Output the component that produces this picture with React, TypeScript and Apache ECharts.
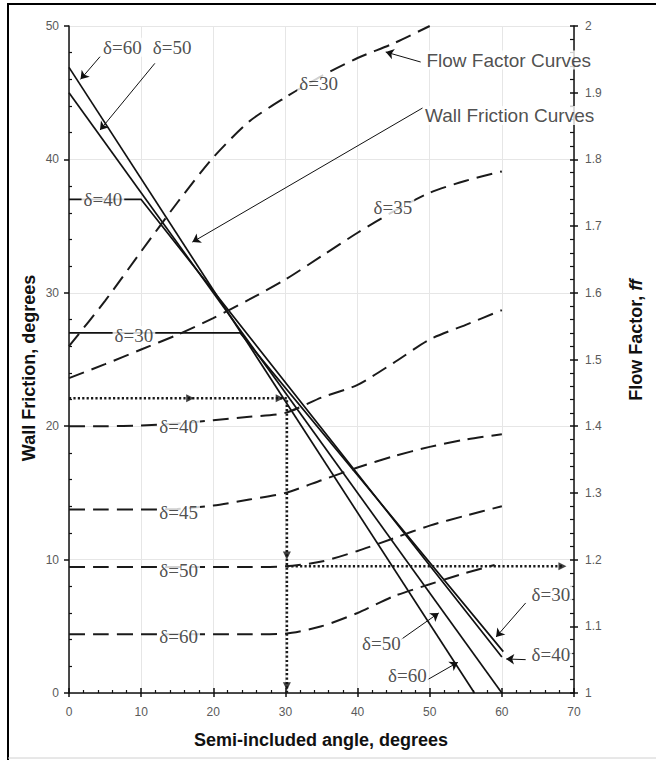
import React, { useEffect, useRef } from "react";
import * as echarts from "echarts";

// ---------- axes ----------
const angleMin = 0;
const angleMax = 70;
const angleStep = 10;
const wallMin = 0;
const wallMax = 50;
const wallStep = 10;
const ffMin = 1;
const ffMax = 2;
const ffStep = 0.1;

// ---------- wall friction curves (solid), [angle, wall friction] ----------
const wallD60 = [[0, 46.9], [56.2, 0]];
const wallD50 = [[0, 45.0], [60, 0]];
const wallD40 = [[0, 37.0], [10, 37.0], [60, 2.7]];
const wallD30 = [[0, 27.0], [23.7, 27.0], [60.2, 3.1]];

// ---------- flow factor curves (dashed) ----------
const ffAnglesD30 = [0, 5, 10, 15, 20, 25, 30, 35, 40, 45, 50];
const ffD30 = [1.52, 1.588, 1.662, 1.735, 1.803, 1.857, 1.893, 1.925, 1.952, 1.974, 2.0];
const ffAngles = [0, 5, 10, 15, 20, 25, 30, 35, 40, 45, 50, 55, 60];
const ffD35 = [1.472, 1.493, 1.515, 1.537, 1.562, 1.59, 1.62, 1.655, 1.69, 1.722, 1.75, 1.768, 1.782];
const ffD40 = [1.4, 1.4, 1.401, 1.404, 1.409, 1.414, 1.42, 1.443, 1.462, 1.495, 1.53, 1.552, 1.574];
const ffD45 = [1.275, 1.275, 1.275, 1.276, 1.281, 1.29, 1.3, 1.319, 1.338, 1.355, 1.369, 1.38, 1.388];
const ffD50 = [1.189, 1.189, 1.189, 1.189, 1.189, 1.189, 1.19, 1.197, 1.213, 1.232, 1.251, 1.266, 1.28];
const ffAnglesD60 = [0, 5, 10, 15, 20, 25, 30, 35, 40, 45, 50, 55, 59];
const ffD60 = [1.088, 1.088, 1.088, 1.088, 1.088, 1.088, 1.089, 1.1, 1.12, 1.145, 1.163, 1.18, 1.192];

// ---------- worked example (dotted guide) ----------
const exampleWallFriction = 22.1;
const exampleAngle = 30.2;
const exampleFlowFactor = 1.19;
const exampleEndAngle = 68.4;

// ---------- annotations ----------
const deltaLabels = [
  { text: "δ=60", x: 7.4, y: 48.4 },
  { text: "δ=50", x: 14.3, y: 48.4 },
  { text: "δ=30", x: 34.6, y: 45.7 },
  { text: "δ=40", x: 4.7, y: 37.0 },
  { text: "δ=30", x: 9.0, y: 26.8 },
  { text: "δ=35", x: 44.9, y: 36.4 },
  { text: "δ=40", x: 15.2, y: 20.0 },
  { text: "δ=45", x: 15.2, y: 13.5 },
  { text: "δ=50", x: 15.2, y: 9.2 },
  { text: "δ=60", x: 15.2, y: 4.2 },
  { text: "δ=30", x: 66.8, y: 7.35 },
  { text: "δ=40", x: 66.8, y: 2.9 },
  { text: "δ=50", x: 43.3, y: 3.7 },
  { text: "δ=60", x: 46.9, y: 1.3 },
];
const curveLabels = [
  { text: "Flow Factor Curves", x: 49.4, y: 47.45 },
  { text: "Wall Friction Curves", x: 49.2, y: 43.3 },
];
const leaders = [
  [[4.3, 47.7], [1.6, 46.0]],
  [[11.9, 47.2], [4.3, 42.2]],
  [[48.75, 47.3], [43.9, 48.05]],
  [[49.0, 43.85], [17.1, 33.8]],
  [[63.3, 6.75], [59.2, 4.2]],
  [[63.3, 2.5], [60.6, 2.55]],
  [[46.0, 4.0], [51.25, 6.0]],
  [[49.7, 1.0], [53.9, 2.3]],
];

const zip = (xs: number[], ys: number[]) => xs.map((x, i) => [x, ys[i]]);

const tickLabel = { color: "#5a5a5a", fontSize: 12, fontFamily: "Liberation Sans" };
const black = "#111";

function buildOption() {
  const wallLine = (name: string, data: number[][], extra: any = {}) => ({
    name,
    type: "line",
    xAxisIndex: 0,
    yAxisIndex: 0,
    data,
    symbol: "none",
    lineStyle: { color: black, width: 1.7 },
    z: 3,
    ...extra,
  });
  const ffLine = (name: string, xs: number[], ys: number[]) => ({
    name,
    type: "line",
    xAxisIndex: 0,
    yAxisIndex: 1,
    data: zip(xs, ys),
    symbol: "none",
    smooth: 0.25,
    lineStyle: { color: "#1a1a1a", width: 2, type: [16, 8] },
    z: 3,
  });
  const dotted = { color: "#1a1a1a", width: 2.6, type: [2.2, 2.2] };

  return {
    animation: false,
    backgroundColor: "#fff",
    grid: { left: 69, right: 82, top: 26, bottom: 67 },
    xAxis: [
      {
        type: "value",
        position: "bottom",
        min: angleMin,
        max: angleMax,
        interval: angleStep,
        axisLine: { show: true, onZero: false, lineStyle: { color: black, width: 1.5 } },
        axisTick: { show: true, inside: false, length: 4, lineStyle: { color: black, width: 1.5 } },
        axisLabel: { ...tickLabel, margin: 13 },
        splitLine: { show: true, lineStyle: { color: "#e6e6e6", width: 1 } },
      },
      {
        type: "value",
        position: "bottom",
        min: angleMin,
        max: angleMax,
        interval: angleStep,
        axisLine: { show: false, onZero: false },
        axisTick: { show: true, inside: true, length: 5, lineStyle: { color: black, width: 1.5 } },
        minorTick: { show: true, splitNumber: 5, length: 3, lineStyle: { color: black, width: 1.2 } },
        axisLabel: { show: false },
        splitLine: { show: false },
      },
    ],
    yAxis: [
      {
        type: "value",
        position: "left",
        min: wallMin,
        max: wallMax,
        interval: wallStep,
        axisLine: { show: true, onZero: false, lineStyle: { color: black, width: 1.5 } },
        axisTick: { show: true, inside: false, length: 5, lineStyle: { color: black, width: 1.5 } },
        axisLabel: { ...tickLabel, margin: 10 },
        splitLine: { show: true, lineStyle: { color: "#e6e6e6", width: 1 } },
      },
      {
        type: "value",
        position: "right",
        min: ffMin,
        max: ffMax,
        interval: ffStep,
        axisLine: { show: true, onZero: false, lineStyle: { color: black, width: 1.5 } },
        axisTick: { show: true, inside: false, length: 4, lineStyle: { color: black, width: 1.5 } },
        axisLabel: { ...tickLabel, margin: 11 },
        splitLine: { show: false },
      },
      {
        type: "value",
        position: "left",
        min: wallMin,
        max: wallMax,
        interval: wallStep,
        axisLine: { show: false, onZero: false },
        axisTick: { show: false, inside: true },
        minorTick: { show: true, splitNumber: 5, length: 3, lineStyle: { color: black, width: 1.2 } },
        axisLabel: { show: false },
        splitLine: { show: false },
      },
      {
        type: "value",
        position: "right",
        min: ffMin,
        max: ffMax,
        interval: ffStep,
        axisLine: { show: false, onZero: false },
        axisTick: { show: true, inside: true, length: 4, lineStyle: { color: black, width: 1.5 } },
        minorTick: { show: true, splitNumber: 5, length: 4, lineStyle: { color: black, width: 1.2 } },
        axisLabel: { show: false },
        splitLine: { show: false },
      },
    ],
    series: [
      wallLine("wall δ=60", wallD60, {
        markLine: {
          silent: true,
          symbol: ["none", "arrow"],
          symbolSize: 8,
          label: { show: false },
          emphasis: { disabled: true },
          lineStyle: { type: "solid", color: black, width: 1 },
          data: leaders.map(([a, b]) => [{ coord: a }, { coord: b }]),
        },
      }),
      wallLine("wall δ=50", wallD50),
      wallLine("wall δ=40", wallD40),
      wallLine("wall δ=30", wallD30),
      ffLine("ff δ=30", ffAnglesD30, ffD30),
      ffLine("ff δ=35", ffAngles, ffD35),
      ffLine("ff δ=40", ffAngles, ffD40),
      ffLine("ff δ=45", ffAngles, ffD45),
      ffLine("ff δ=50", ffAngles, ffD50),
      ffLine("ff δ=60", ffAnglesD60, ffD60),
      {
        name: "guide wall",
        type: "line",
        xAxisIndex: 0,
        yAxisIndex: 0,
        data: [
          [angleMin, exampleWallFriction],
          [exampleAngle, exampleWallFriction],
          [exampleAngle, wallMin],
        ],
        symbol: "none",
        lineStyle: dotted,
        z: 4,
      },
      {
        name: "guide ff",
        type: "line",
        xAxisIndex: 0,
        yAxisIndex: 1,
        data: [
          [exampleAngle, exampleFlowFactor],
          [exampleEndAngle, exampleFlowFactor],
        ],
        symbol: "none",
        lineStyle: dotted,
        z: 4,
      },
      {
        name: "guide arrows wall",
        type: "scatter",
        xAxisIndex: 0,
        yAxisIndex: 0,
        symbol: "triangle",
        symbolSize: 8,
        itemStyle: { color: "#111" },
        data: [
          { value: [16.8, exampleWallFriction], symbolRotate: -90 },
          { value: [29.2, exampleWallFriction], symbolRotate: -90 },
          { value: [exampleAngle, 10.3], symbolRotate: 180 },
          { value: [exampleAngle, 0.5], symbolRotate: 180 },
        ],
        z: 5,
      },
      {
        name: "guide arrows ff",
        type: "scatter",
        xAxisIndex: 0,
        yAxisIndex: 1,
        symbol: "triangle",
        symbolSize: 8,
        itemStyle: { color: "#111" },
        data: [{ value: [exampleEndAngle, exampleFlowFactor], symbolRotate: -90 }],
        z: 5,
      },
      {
        name: "labels",
        type: "scatter",
        xAxisIndex: 0,
        yAxisIndex: 0,
        symbol: "circle",
        symbolSize: 1,
        clip: false,
        itemStyle: { color: "rgba(0,0,0,0)" },
        z: 10,
        label: {
          show: true,
          position: "inside",
          formatter: "{b}",
          color: "#222",
          fontFamily: "Liberation Serif",
          fontSize: 19,
          backgroundColor: "#fff",
          padding: [0, 2],
          align: "center",
          verticalAlign: "middle",
        },
        data: [
          ...deltaLabels.map((d) => ({ name: d.text, value: [d.x, d.y] })),
          ...curveLabels.map((d) => ({
            name: d.text,
            value: [d.x, d.y],
            label: {
              align: "left",
              fontFamily: "Liberation Sans",
              fontSize: 19,
              color: "#222",
              padding: [0, 1],
            },
          })),
        ],
      },
    ],
    graphic: [
      {
        type: "text",
        x: 321,
        y: 740,
        z: 100,
        style: {
          text: "Semi-included angle, degrees",
          font: "bold 18px 'Liberation Sans'",
          fill: "#111",
          align: "center",
          verticalAlign: "middle",
        },
      },
      {
        type: "text",
        x: 29,
        y: 368,
        rotation: Math.PI / 2,
        z: 100,
        style: {
          text: "Wall Friction, degrees",
          font: "bold 18px 'Liberation Sans'",
          fill: "#111",
          align: "center",
          verticalAlign: "middle",
        },
      },
      {
        type: "text",
        x: 636,
        y: 340,
        rotation: Math.PI / 2,
        z: 100,
        style: {
          text: "{a|Flow Factor, }{b|ff}",
          align: "center",
          verticalAlign: "middle",
          fill: "#111",
          rich: {
            a: { font: "bold 18px 'Liberation Sans'", fill: "#111" },
            b: { font: "italic bold 18px 'Liberation Sans'", fill: "#111" },
          },
        },
      },
      {
        type: "line",
        z: 100,
        shape: { x1: 8, y1: 3, x2: 8, y2: 760 },
        style: { stroke: "#000", lineWidth: 2 },
      },
      {
        type: "line",
        z: 100,
        shape: { x1: 7, y1: 4, x2: 656, y2: 4 },
        style: { stroke: "#000", lineWidth: 2 },
      },
      {
        type: "line",
        z: 100,
        shape: { x1: 8, y1: 758, x2: 656, y2: 758 },
        style: { stroke: "#d0d0d0", lineWidth: 1 },
      },
    ],
  };
}

export default function App() {
  const ref = useRef<HTMLDivElement>(null);
  useEffect(() => {
    if (!ref.current) return;
    const chart = echarts.init(ref.current, null, { renderer: "svg" });
    chart.setOption(buildOption() as any);
    return () => chart.dispose();
  }, []);
  return (
    <div
      ref={ref}
      style={{ position: "absolute", left: 0, top: 0, width: 656, height: 760, background: "#fff" }}
    />
  );
}
